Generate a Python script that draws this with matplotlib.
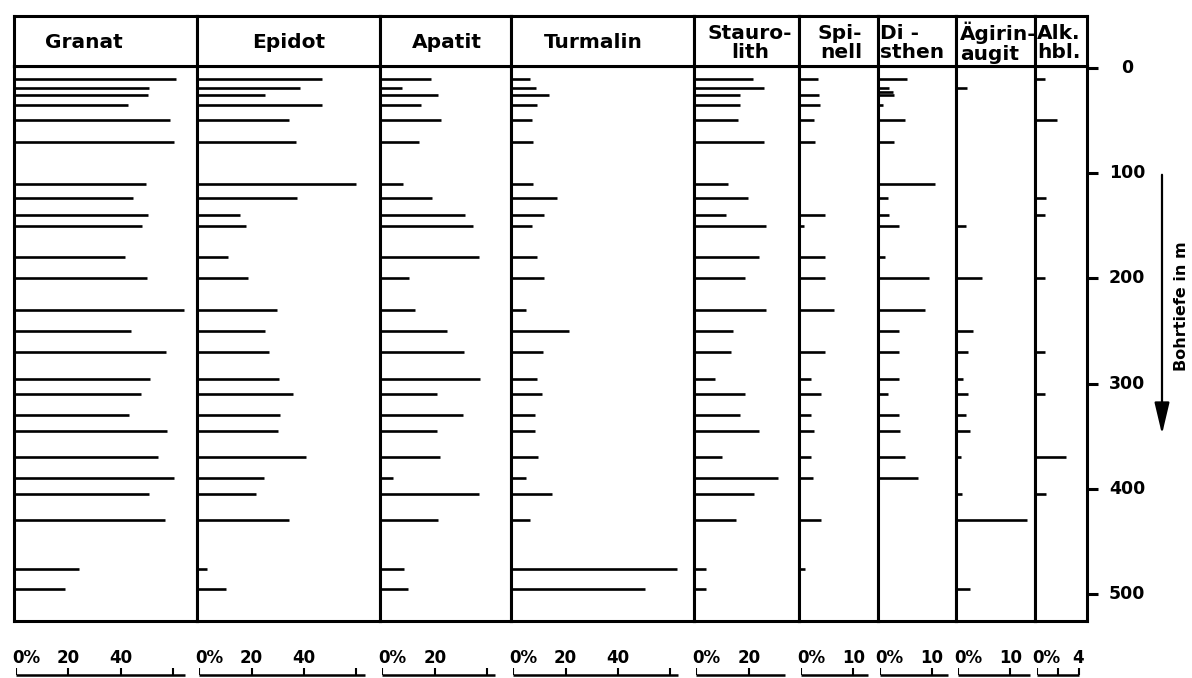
import numpy as np
import matplotlib.pyplot as plt
from matplotlib import transforms

plt.rcParams['font.family'] = ['DejaVu Sans']

nan = np.nan

# Probentiefen in m
depth = [10, 19, 23, 26, 35, 49, 70, 110, 124, 140, 150, 180, 200, 230, 250,
         270, 296, 310, 330, 345, 370, 390, 405, 430, 476, 495]

# Anteile in % je Mineral
granat = [62, 51.6, nan, 51.2, 43.6, 59.6, 61.3, 50.4, 45.5, 51.3, 49, 42.4, 50.9,
          65, 44.6, 58, 52, 48.7, 44, 58.3, 55, 61, 51.6, 57.7, 24.7, 19.6]
epidot = [47.8, 39.4, nan, 26, 47.8, 35, 37.6, 60.5, 38, 16.4, 18.7, 11.7, 19.4,
          30.4, 26, 27.4, 31.2, 36.6, 31.5, 31, 41.6, 25.5, 22.3, 34.9, 3.8, 11.1]
apatit = [19.5, 8.3, nan, 22.2, 15.7, 23.3, 14.9, 8.8, 19.9, 32.5, 35.2, 37.8, 11.1,
          13.4, 25.6, 32.1, 38.2, 21.8, 31.7, 21.8, 22.9, 4.8, 37.6, 22, 9, 10.6]
turmalin = [7.3, 9.6, nan, 14.5, 9.9, 8, 8.4, 8.4, 17.6, 12.7, 8, 9.9, 12.6,
            5.7, 22.2, 12.3, 9.9, 11.7, 9.2, 8.9, 10.4, 5.8, 15.5, 7.3, 63.5, 51]
staurolith = [22.2, 26.4, nan, 17.6, 17.6, 16.8, 26.4, 13, 20.6, 11.9, 27.5, 24.8, 19.5,
              27.5, 14.9, 14.1, 8, 19.5, 17.6, 24.8, 10.7, 32, 22.9, 16, 4.6, 4.6]
spinell = [3.6, nan, nan, 3.8, 4, 2.9, 3.1, nan, nan, 5, 1, 5, 5,
           6.7, nan, 5, 2.3, 4.2, 2.2, 2.9, 2.2, 2.6, nan, 4.2, 1.1, nan]
disthen = [5.7, 2.2, 3.0, 3.2, 1.1, 5.3, 3.2, 10.9, 1.9, 2.1, 4, 1.5, 9.9,
           9.1, 4, 4, 4, 1.9, 4, 4.2, 5.2, 7.8, nan, nan, nan, nan]
aegirin = [nan, 2.1, nan, nan, nan, nan, nan, nan, nan, nan, 1.9, nan, 5,
           nan, 3.2, 2.3, 1.3, 2.3, 1.8, 2.7, 1, nan, 1.1, 13.6, nan, 2.7]
alkhbl = [1, nan, nan, nan, nan, 2.1, nan, nan, 1.1, 1, nan, nan, 1,
          nan, nan, 1, nan, 1, nan, nan, 3, nan, 1.1, nan, nan, nan]

headers = ['Granat', 'Epidot', 'Apatit', 'Turmalin', 'Stauro-\nlith',
           'Spi-\nnell', 'Di -\nsthen', 'Ägirin-\naugit', 'Alk.\nhbl.']
series = [granat, epidot, apatit, turmalin, staurolith, spinell, disthen, aegirin, alkhbl]
xmax = [70, 70, 50, 70, 40, 15, 15, 15, 5]
mult = [1, 1, 1, 1, 1, 2, 2, 2, 4]

# Maßstabsleisten unten: Striche, beschriftete Striche, Linienende
scale_ticks = [[0, 20, 40, 60], [0, 20, 40, 60], [0, 20, 40], [0, 20, 40, 60], [0, 20],
               [0, 10], [0, 10], [0, 10], [0, 2, 4]]
scale_labels = [[20, 40], [20, 40], [20], [20, 40], [20], [10], [10], [10], [4]]
scale_end = [64.5, 63.5, 43, 63, 34, 12.8, 13, 13.8, 4]

depth_ticks = [0, 100, 200, 300, 400, 500]

W, H = 1192, 678
fig = plt.figure(figsize=(W / 100, H / 100), dpi=100)


def box(x0, y0, x1, y1):
    return [x0 / W, 1 - y1 / H, (x1 - x0) / W, (y1 - y0) / H]


LW = 2.2
left, right = 14, 1087
ppu = (right - left) / sum(x * m for x, m in zip(xmax, mult))
top, head, bottom = 16, 66, 621
y0px, ppm = 68, 1.052

# Kopfzeilen: (x-Lage im Feld, Ausrichtung)
head_pos = [(0.38, 'center'), (0.5, 'center'), (0.51, 'center'), (0.45, 'center'),
            (0.53, 'center'), (0.80, 'right'), (0.03, 'left'), (0.05, 'left'), (0.04, 'left')]

x = left
axes = []
for i in range(9):
    w = xmax[i] * mult[i] * ppu
    # Datenfeld
    ax = fig.add_axes(box(x, head, x + w, bottom))
    ax.set_xlim(0, xmax[i])
    ax.set_ylim((bottom - y0px) / ppm, (head - y0px) / ppm)
    d = np.array(depth, dtype=float)
    v = np.array(series[i], dtype=float)
    ok = ~np.isnan(v)
    ax.hlines(d[ok], 0, v[ok], color='black', lw=1.9, capstyle='butt')
    ax.set_xticks([])
    ax.set_yticks([])
    for s in ax.spines.values():
        s.set_linewidth(LW)
    axes.append(ax)

    # Kopf
    hx = fig.add_axes(box(x, top, x + w, head))
    hx.set_xticks([])
    hx.set_yticks([])
    for s in hx.spines.values():
        s.set_linewidth(LW)
    px, ha = head_pos[i]
    hx.text(px, 0.46, headers[i], ha=ha, va='center', multialignment=ha,
            fontsize=14.5, fontweight='bold', linespacing=1.05, clip_on=False)

    # Maßstab
    sx = fig.add_axes(box(x + 2, 636, x + 2 + w, 678))
    sx.set_xlim(0, xmax[i])
    sx.set_ylim(0, 1)
    sx.axis('off')
    ly = 3 / 42
    base = 15 / 42
    sx.plot([0, scale_end[i]], [ly, ly], color='black', lw=1.8, solid_capstyle='butt', clip_on=False)
    sx.vlines(scale_ticks[i], ly, ly + 7 / 42, color='black', lw=1.5)
    sx.annotate('0%', (0, base), xytext=(-3, 0), textcoords='offset points',
                ha='left', va='baseline', fontsize=12, fontweight='bold')
    for t in scale_labels[i]:
        sx.text(t, base, str(t), ha='center', va='baseline', fontsize=12, fontweight='bold')

    x += w

# Tiefenachse rechts
ax = axes[-1]
ax.yaxis.set_ticks_position('right')
ax.set_yticks(depth_ticks)
ax.set_yticklabels([])
ax.tick_params(axis='y', direction='out', length=8, width=2.2)
tr = transforms.blended_transform_factory(fig.transFigure, ax.transData)
for t in depth_ticks:
    ax.text(1127 / W, t, str(t), transform=tr, ha='center', va='center',
            fontsize=12.5, fontweight='bold', clip_on=False)

ax.annotate('', xy=(1162 / W, (437 - y0px) / ppm), xytext=(1162 / W, (172 - y0px) / ppm),
            xycoords=tr, textcoords=tr,
            arrowprops=dict(arrowstyle='-|>,head_length=0.97,head_width=0.23',
                            color='black', lw=1.6, mutation_scale=20))
ax.text(1182 / W, (306 - y0px) / ppm, 'Bohrtiefe in m', transform=tr, rotation=90,
        ha='center', va='center', fontsize=11.5, fontweight='bold', clip_on=False)

fig.savefig('out.png', dpi=100)
